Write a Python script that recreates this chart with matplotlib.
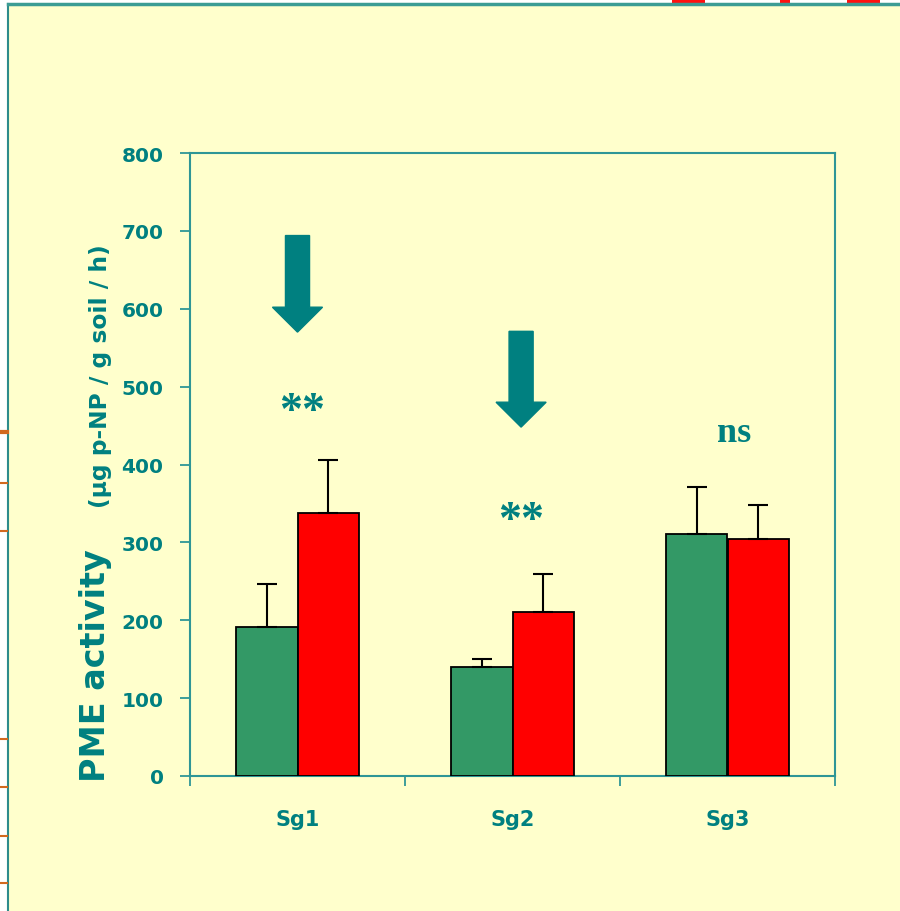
import matplotlib.pyplot as plt
import numpy as np
from matplotlib.patches import FancyArrow, Rectangle

# data
groups = ['Sg1', 'Sg2', 'Sg3']
green_vals = [191, 140, 311]
green_err = [56, 10, 60]
red_vals = [338, 210, 304]
red_err = [68, 49, 44]
yticks = [0, 100, 200, 300, 400, 500, 600, 700, 800]

teal = '#008080'
axis_col = '#2E9696'
cream = '#FFFFCC'
sans = ['DejaVu Sans']

W, H = 900, 912
fig = plt.figure(figsize=(9, 9.12), dpi=100, facecolor='white')

# slide area (cream) inside a thin frame, white outside
fig.patches.append(Rectangle((8/W, 0), 1 - 8/W, 1 - 5/H, transform=fig.transFigure,
                             facecolor=cream, edgecolor='none', zorder=-5))
fig.patches.append(Rectangle((0, 0), 7/W, 1, transform=fig.transFigure,
                             facecolor='white', edgecolor='none', zorder=-4))
fig.add_artist(plt.Line2D([8/W, 8/W], [0, 1 - 5/H], color='#2E8B8B', lw=1.5))
fig.add_artist(plt.Line2D([8/W, 1], [1 - 5/H, 1 - 5/H], color='#3C9C94', lw=2.5))
# bits of other slide objects peeking in
for yp, lw in [(433, 3), (484, 1.5), (532, 1.5), (740, 1.5), (788, 1.5), (837, 1.5), (884, 1.5)]:
    fig.add_artist(plt.Line2D([0, 7/W], [1 - yp/H, 1 - yp/H], color='#D2691E', lw=lw))
for x0, x1 in [(672, 705), (780, 790), (847, 880)]:
    fig.patches.append(Rectangle((x0/W, 1 - 4/H), (x1 - x0)/W, 4/H, transform=fig.transFigure,
                                 facecolor='#FF1010', edgecolor='none'))

ax = fig.add_axes([190/W, 1 - 777/H, 645/W, 623/H])
ax.set_facecolor(cream)
x = np.arange(len(groups))
bw = 0.285
ekw = dict(ecolor='black', elinewidth=1.5, capsize=7, capthick=1.5)
ax.bar(x - bw/2, green_vals, bw, color='#339966', edgecolor='black', lw=1.3,
       yerr=[np.zeros(3), green_err], error_kw=ekw, zorder=3)
ax.bar(x + bw/2, red_vals, bw, color='#FF0000', edgecolor='black', lw=1.3,
       yerr=[np.zeros(3), red_err], error_kw=ekw, zorder=3)

ax.set_xlim(-0.5, 2.5)
ax.set_ylim(0, 800)
ax.set_yticks(yticks)
ax.set_xticks(x)
ax.set_xticklabels(groups)
ax.set_xticks([-0.5, 0.5, 1.5, 2.5], minor=True)
ax.tick_params(axis='x', which='major', length=0, pad=24, labelsize=15, labelcolor=teal)
ax.tick_params(axis='x', which='minor', length=7, width=1.3, color=axis_col)
ax.tick_params(axis='y', length=7, width=1.3, color=axis_col, pad=12,
               labelsize=14.5, labelcolor=teal)
for lab in ax.get_xticklabels() + ax.get_yticklabels():
    lab.set_fontweight('bold')
    lab.set_family(sans)
for s in ax.spines.values():
    s.set_color(axis_col)
    s.set_linewidth(1.5)

# arrows and significance marks
ax.add_patch(FancyArrow(0.0, 694, 0, -124, width=0.112, head_width=0.233, head_length=32,
                        length_includes_head=True, color=teal, zorder=4))
ax.add_patch(FancyArrow(1.04, 571, 0, -123, width=0.112, head_width=0.233, head_length=32,
                        length_includes_head=True, color=teal, zorder=4))
sfont = dict(color=teal, fontweight='bold', family='Liberation Serif', ha='center', va='center')
ax.text(0.02, 468, '**', fontsize=33, **sfont)
ax.text(1.04, 328, '**', fontsize=33, **sfont)
ax.text(2.03, 441, 'ns', fontsize=26, **sfont)

# y label in two sizes
fig.text(105/W, 1 - 782/H, 'PME activity', rotation=90, rotation_mode='anchor',
         ha='left', va='baseline', fontsize=24, fontweight='bold', color=teal, family=sans)
fig.text(107/W, 1 - 508/H, '(µg p-NP / g soil / h)', rotation=90, rotation_mode='anchor',
         ha='left', va='baseline', fontsize=16.8, fontweight='bold', color=teal, family=sans)

fig.savefig('out.png', dpi=100, facecolor='white')
